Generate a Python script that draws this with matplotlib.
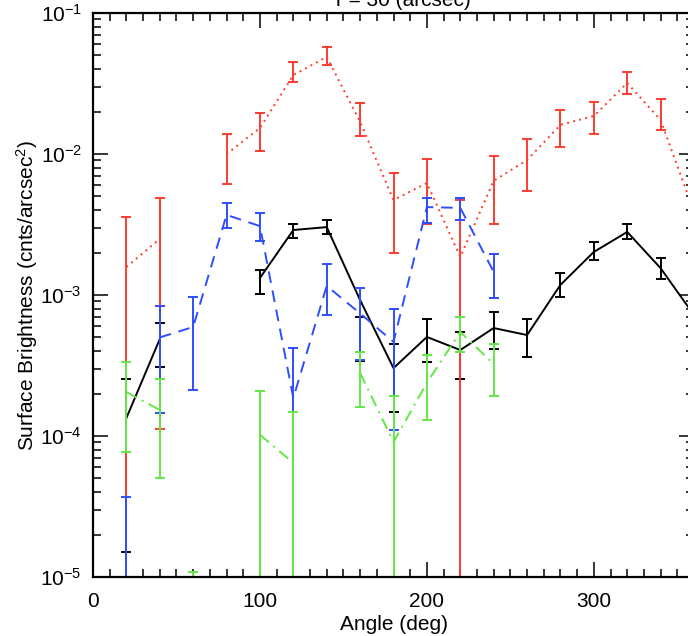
import matplotlib
matplotlib.use('Agg')
import matplotlib.pyplot as plt
from matplotlib.ticker import MultipleLocator, FixedLocator, LogLocator, NullFormatter
import numpy as np

plt.rcParams['font.family'] = ['Liberation Sans', 'DejaVu Sans']
plt.rcParams['mathtext.fontset'] = 'custom'
plt.rcParams['mathtext.rm'] = 'Liberation Sans'
plt.rcParams['mathtext.it'] = 'Liberation Sans:italic'

nan = np.nan
angle = [20, 40, 60, 80, 100, 120, 140, 160, 180, 200, 220, 240, 260, 280, 300, 320, 340, 360]

# red, dotted
red_y = [1.58e-3, 2.5e-3, nan, 1.0e-2, 1.53e-2, 3.63e-2, 4.88e-2, 1.69e-2, 4.72e-3,
         6.22e-3, 1.86e-3, 6.45e-3, 9.06e-3, 1.61e-2, 1.86e-2, 3.19e-2, 1.74e-2, 3.9e-3]
red_hi = [3.57e-3, 4.89e-3, nan, 1.39e-2, 1.95e-2, 4.49e-2, 5.74e-2, 2.30e-2, 7.33e-3,
          9.22e-3, 4.72e-3, 9.68e-3, 1.28e-2, 2.05e-2, 2.34e-2, 3.82e-2, 2.45e-2, 6.0e-3]
red_lo = [1e-5, 1.12e-4, nan, 6.1e-3, 1.05e-2, 3.24e-2, 4.28e-2, 1.34e-2, 2.0e-3,
          3.2e-3, 1e-5, 3.2e-3, 5.47e-3, 1.12e-2, 1.39e-2, 2.67e-2, 1.48e-2, 3.0e-3]

# black, solid
black_y = [1.34e-4, 4.87e-4, nan, nan, 1.32e-3, 2.89e-3, 3.03e-3, 9.2e-4, 3.03e-4,
           5.04e-4, 4.07e-4, 5.83e-4, 5.2e-4, 1.18e-3, 2.02e-3, 2.8e-3, 1.55e-3, 7.2e-4]
black_hi = [2.53e-4, 6.32e-4, nan, nan, 1.50e-3, 3.19e-3, 3.4e-3, 7.0e-4, 4.49e-4,
            6.76e-4, 5.47e-4, 7.58e-4, 6.76e-4, 1.43e-3, 2.38e-3, 3.19e-3, 1.83e-3, 9.5e-4]
black_lo = [1.5e-5, 3.08e-4, nan, nan, 1.02e-3, 2.54e-3, 2.7e-3, 3.4e-4, 1.48e-4,
            3.35e-4, 2.54e-4, 4.14e-4, 3.63e-4, 9.68e-4, 1.77e-3, 2.49e-3, 1.3e-3, 5.0e-4]

# blue, dashed
blue_y = [nan, 5.0e-4, 5.93e-4, 3.7e-3, 3.08e-3, 1.86e-4, 1.16e-3, 7.4e-4, 4.65e-4,
          4.2e-3, 4.15e-3, 1.46e-3, nan, nan, nan, nan, nan, nan]
blue_hi = [3.69e-5, 8.36e-4, 9.68e-4, 4.49e-3, 3.82e-3, 4.21e-4, 1.66e-3, 1.12e-3, 7.96e-4,
           4.88e-3, 4.88e-3, 1.95e-3, nan, nan, nan, nan, nan, nan]
blue_lo = [1e-5, 1.46e-4, 2.12e-4, 2.98e-3, 2.41e-3, 1e-5, 7.21e-4, 3.46e-4, 1.1e-4,
           3.24e-3, 3.4e-3, 9.5e-4, nan, nan, nan, nan, nan, nan]

# green, dash-dot
green_y = [2.05e-4, 1.53e-4, nan, nan, 1.02e-4, 6.45e-5, nan, 2.8e-4, 9.06e-5,
           2.38e-4, 5.47e-4, 3.24e-4, nan, nan, nan, nan, nan, nan]
green_hi = [3.35e-4, 2.54e-4, 1.08e-5, 1e-5, 2.08e-4, 1.48e-4, 1e-5, 3.94e-4, 1.92e-4,
            3.75e-4, 6.98e-4, 4.49e-4, nan, nan, nan, nan, nan, nan]
green_lo = [7.7e-5, 5.0e-5, 1e-5, 1e-5, 1e-5, 1e-5, 1e-5, 1.61e-4, 1e-5,
            1.30e-4, 3.94e-4, 1.92e-4, nan, nan, nan, nan, nan, nan]


def draw_series(ax, y, lo, hi, color, style):
    x = np.array(angle, dtype=float)
    lo = np.array(lo)
    hi = np.array(hi)
    ax.errorbar(x, lo, yerr=[np.zeros_like(lo), hi - lo], fmt='none',
                ecolor=color, elinewidth=1.4, capsize=3.6, capthick=1.4)
    ax.plot(x, y, color=color, linestyle=style, linewidth=1.4)


fig = plt.figure(figsize=(6.88, 6.36), dpi=100)
ax = fig.add_axes([93 / 688, 59 / 636, 601 / 688, 564 / 636])

draw_series(ax, black_y, black_lo, black_hi, 'black', '-')
draw_series(ax, red_y, red_lo, red_hi, '#ff3b2f', (0, (1, 2.2)))
draw_series(ax, blue_y, blue_lo, blue_hi, '#2f4dff', (0, (6, 4)))
draw_series(ax, green_y, green_lo, green_hi, '#62e845', (0, (6, 3, 1, 3)))

ax.set_yscale('log')
ax.set_xlim(0, 360)
ax.set_ylim(1e-5, 1e-1)

ax.xaxis.set_major_locator(FixedLocator([0, 100, 200, 300]))
ax.xaxis.set_minor_locator(MultipleLocator(10))
ax.yaxis.set_major_locator(LogLocator(base=10))
ax.yaxis.set_minor_locator(LogLocator(base=10, subs=np.arange(2, 10)))
ax.yaxis.set_minor_formatter(NullFormatter())

ax.tick_params(which='both', direction='in', top=True, right=True,
               labelsize=15, width=1.1, color='black')
ax.tick_params(which='major', length=11, pad=8)
ax.tick_params(which='minor', length=6)
ax.tick_params(axis='x', which='major', pad=11)
for s in ax.spines.values():
    s.set_linewidth(1.6)

ax.set_xlabel('Angle (deg)', fontsize=15, labelpad=3)
ax.set_ylabel('Surface Brightness (cnts/arcsec$^2$)', fontsize=15, labelpad=0)

# title sits above the figure edge, only its bottom shows
fig.text(403 / 688, 1 - 6 / 636, 'r = 30 (arcsec)', ha='center', va='baseline', fontsize=15)

fig.savefig('out.png', dpi=100)
